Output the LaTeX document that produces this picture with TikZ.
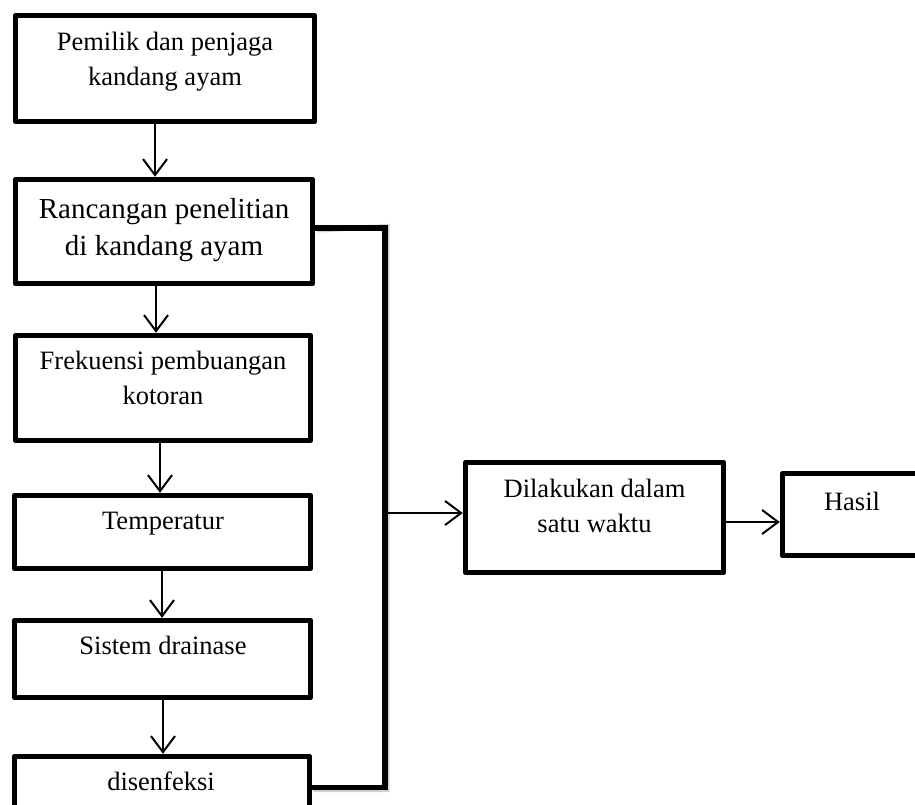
\documentclass[tikz,border=0pt]{standalone}
\usepackage{fontspec}
\setmainfont{Liberation Serif}
\usetikzlibrary{arrows.meta}
\begin{document}
\begin{tikzpicture}[x=1pt,y=-1pt,
  box/.style={draw,line width=5.5pt,line join=round,inner sep=0pt},
  txt/.style={align=center,inner sep=0pt,font=\fontsize{26.5}{35}\selectfont},
  bigtxt/.style={align=center,inner sep=0pt,font=\fontsize{29}{37}\selectfont},
  arr/.style={line width=2pt,-{Straight Barb[length=16pt,width=24pt,line width=2pt]}},
  conn/.style={line width=5.5pt,line join=miter},
  connshadow/.style={line width=5pt,draw=black!30,opacity=0.6}]
\useasboundingbox (0,0) rectangle (915,805);
\clip (0,0) rectangle (915,805);

% process boxes (left column)
\node[box,minimum width=299pt,minimum height=106pt] (b1) at (165,68.5) {};
\node[box,minimum width=297pt,minimum height=104pt] (b2) at (164,231.5) {};
\node[box,minimum width=295pt,minimum height=105pt] (b3) at (163,388) {};
\node[box,minimum width=296pt,minimum height=73pt]  (b4) at (162.5,532) {};
\node[box,minimum width=296pt,minimum height=77pt]  (b5) at (162.5,659) {};
\node[box,minimum width=295pt,minimum height=62pt]  (b6) at (162,787.5) {};
% result boxes (right)
\node[box,minimum width=258pt,minimum height=110pt] (b7) at (594.5,517.5) {};
\node[box,minimum width=139pt,minimum height=82pt]  (b8) at (852,514.5) {};

% box texts (base = baseline of the last line)
\node[txt,anchor=base] (t1) at (165,86) {Pemilik dan penjaga\\kandang ayam};
\node[bigtxt,anchor=base] (t2) at (164,255) {Rancangan penelitian\\di kandang ayam};
\node[txt,anchor=base] (t3) at (163,404) {Frekuensi pembuangan\\kotoran};
\node[txt,anchor=base] (t4) at (163,529) {Temperatur};
\node[txt,anchor=base] (t5) at (163,654) {Sistem drainase};
\node[txt,anchor=base] (t6) at (161,790) {disenfeksi};
\node[txt,anchor=base] (t7) at (594.5,532) {Dilakukan dalam\\satu waktu};
\node[txt,anchor=base] (t8) at (852,510) {Hasil};

% downward arrows
\draw[arr] ([xshift=-10pt]b1.south) -- ([xshift=-10pt]b1.south |- b2.north);
\draw[arr] ([xshift=-8pt]b2.south) -- ([xshift=-8pt]b2.south |- b3.north);
\draw[arr] ([xshift=-3pt]b3.south) -- ([xshift=-3pt]b3.south |- b4.north);
\draw[arr] ([xshift=-0.5pt]b4.south) -- ([xshift=-0.5pt]b4.south |- b5.north);
\draw[arr] ([xshift=0.5pt]b5.south) -- ([xshift=0.5pt]b5.south |- b6.north);

% collecting line on the right of the column
\coordinate (c1) at (385,228);
\coordinate (c2) at (385,787.5);
\draw[connshadow] ([xshift=2pt,yshift=1.5pt]b2.east) -- ([xshift=2pt,yshift=1.5pt]c1) -- ([xshift=2pt,yshift=-2pt]c2) -- ([xshift=1pt,yshift=-2pt]b6.east);
\draw[conn] ([yshift=3.5pt]b2.east) -- (c1) -- (c2) -- (b6.east);

% arrows towards the result
\coordinate (j) at (385,513);
\draw[arr] (j) -- (j -| b7.west);
\draw[arr] ([yshift=-4.5pt]b7.east) -- ([yshift=-4.5pt]b7.east -| b8.west);
\end{tikzpicture}
\end{document}
